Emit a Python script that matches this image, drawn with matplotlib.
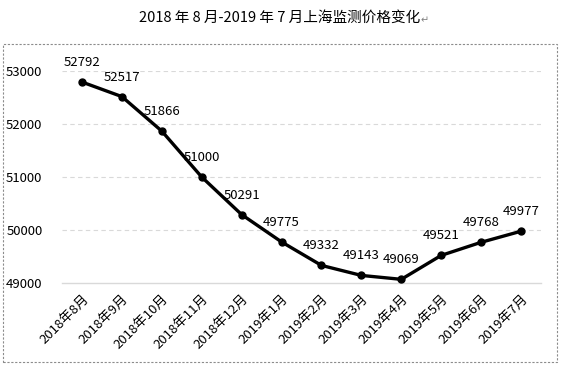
import matplotlib
matplotlib.use("Agg")
from matplotlib import pyplot as plt
from matplotlib.patches import Rectangle

plt.rcParams['font.family'] = ['Noto Sans CJK SC', 'DejaVu Sans']

months = ["2018年8月", "2018年9月", "2018年10月", "2018年11月", "2018年12月",
          "2019年1月", "2019年2月", "2019年3月", "2019年4月", "2019年5月",
          "2019年6月", "2019年7月"]
prices = [52792, 52517, 51866, 51000, 50291, 49775, 49332, 49143, 49069,
          49521, 49768, 49977]
yticks = [49000, 50000, 51000, 52000, 53000]

fig = plt.figure(figsize=(5.61, 3.67), dpi=100)

# dashed frame around the chart
fig.patches.append(Rectangle((3 / 561, 1 - 362 / 367), 554 / 561, 318 / 367,
                             transform=fig.transFigure, fill=False,
                             edgecolor="#8c8c8c", linestyle=(0, (2, 1.5)), linewidth=0.8))

fig.text(280 / 561, 1 - 18 / 367, "2018 年 8 月-2019 年 7 月上海监测价格变化",
         ha="center", va="center", fontsize=10.5, color="black")
fig.text(421 / 561, 1 - 20 / 367, "↵", ha="left", va="center", fontsize=7,
         color="#808080", family=['DejaVu Sans'])

ax = fig.add_axes([62 / 561, 1 - 283 / 367, 479 / 561, 212 / 367])
x = list(range(len(months)))
ax.plot(x, prices, color="black", linewidth=2.4, marker="o", markersize=5,
        solid_joinstyle="round", zorder=3)
for xi, v in zip(x, prices):
    ax.annotate(str(v), (xi, v), xytext=(0, 14), textcoords="offset points",
                ha="center", va="center", fontsize=9.5, color="black")

ax.set_xlim(-0.5, 11.5)
ax.set_ylim(49000, 53000)
ax.set_yticks(yticks)
ax.set_yticklabels([str(t) for t in yticks], fontsize=9.5)
ax.set_xticks(x)
ax.set_xticklabels(months, rotation=45, ha="right", rotation_mode="anchor", fontsize=9.5)
ax.tick_params(length=0, pad=7)
ax.tick_params(axis="y", pad=14)
for t in yticks[1:]:
    ax.axhline(t, color="#d9d9d9", linestyle=(0, (4, 3)), linewidth=0.8, zorder=1)
for s in ["top", "right", "left"]:
    ax.spines[s].set_visible(False)
ax.spines["bottom"].set_color("#d9d9d9")
ax.spines["bottom"].set_linewidth(1)
ax.set_facecolor("none")

fig.savefig("out.png", dpi=100)
